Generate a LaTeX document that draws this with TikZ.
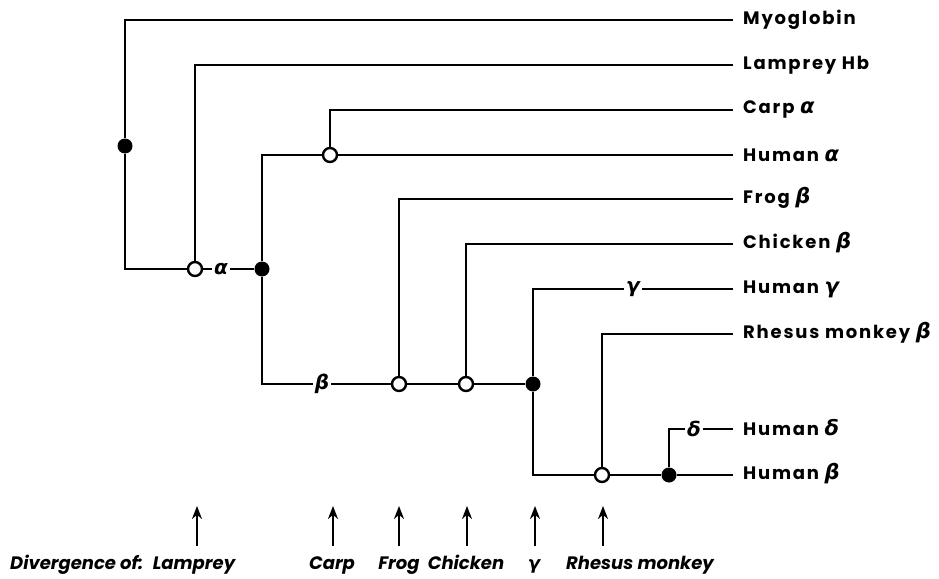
\documentclass[tikz,border=0pt]{standalone}
\usepackage{fontspec}
\setmainfont{Poppins}
\newfontfamily\leaffam{Poppins}[LetterSpace=10]
\newfontfamily\grk{DejaVu Sans}
\newcommand{\gr}[1]{{\grk\bfseries\itshape #1}}
\newcommand{\grbig}[1]{{\grk\bfseries\itshape\fontsize{21}{22}\selectfont #1}}
\usetikzlibrary{arrows.meta}
\tikzset{
  branch/.style={line width=2.8pt},
  opendot/.style={circle, draw, fill=white, line width=2.4pt, minimum size=14pt, inner sep=0pt},
  fulldot/.style={circle, fill=black, minimum size=15pt, inner sep=0pt},
  leaf/.style={anchor=west, inner sep=0pt, font=\leaffam\bfseries\fontsize{18}{22}\selectfont},
  chain/.style={fill=white, inner sep=2pt, font=\fontsize{20}{22}\selectfont},
  era/.style={inner sep=0pt, font=\bfseries\itshape\fontsize{18}{21}\selectfont},
  rise/.style={line width=2.8pt, -{Stealth[length=13pt,width=10pt]}},
}
\begin{document}
\begin{tikzpicture}[x=1pt, y=-1pt]
\useasboundingbox (0,0) rectangle (939,578);

% leaf ends
\foreach \n/\y in {myo/20, lam/65, carp/110, ha/155, frog/199, chick/244, hg/289, rh/334, hd/429, hb/475}
  \coordinate (\n) at (733,\y);

% leaf labels
\node[leaf] (tmyo) at (743,20) {Myoglobin};
\node[leaf] (tlam) at (743,65) {Lamprey Hb};
\node[leaf] (tcarp) at (743,110) {Carp \grbig{α}};
\node[leaf] (tha) at (743,155) {Human \grbig{α}};
\node[leaf] (tfrog) at (743,198) {Frog \grbig{β}};
\node[leaf] (tchick) at (743,243) {Chicken \grbig{β}};
\node[leaf] (thg) at (743,289) {Human \grbig{γ}};
\node[leaf] (trh) at (743,333) {Rhesus monkey \grbig{β}};
\node[leaf] (thd) at (743,428) {Human \grbig{δ}};
\node[leaf] (thb) at (743,474) {Human \grbig{β}};

% internal nodes
\node[fulldot] (mg) at (125,146) {};
\node[opendot] (lo) at (195,269) {};
\node[fulldot] (af) at (262,269) {};
\node[opendot] (co) at (330,155) {};
\node[opendot] (fo) at (399,384) {};
\node[opendot] (cho) at (466,384) {};
\node[fulldot] (gf) at (533,384) {};
\node[opendot] (ro) at (602,475) {};
\node[fulldot] (df) at (669,475) {};

% chain labels
\node[chain] (la) at (221,269) {\gr{α}};
\node[chain] (lb) at (322,384) {\gr{β}};
\node[chain] (lg) at (633,289) {\gr{γ}};
\node[chain] (ld) at (694,429) {\gr{δ}};

% branches
\draw[branch] (myo) -| (mg) |- (lo);
\draw[branch] (lam) -| (lo);
\draw[branch] (lo) -- (la) -- (af);
\draw[branch] (ha) -- (co) -| (af);
\draw[branch] (carp) -| (co);
\draw[branch] (af) |- (lb) -- (fo) -- (cho) -- (gf);
\draw[branch] (frog) -| (fo);
\draw[branch] (chick) -| (cho);
\draw[branch] (gf) |- (lg) -- (hg);
\draw[branch] (gf) |- (ro) -- (df) -- (hb);
\draw[branch] (rh) -| (ro);
\draw[branch] (df) |- (ld) -- (hd);

% divergence markers
\node[era, anchor=base west] (tdiv) at (10,569) {Divergence of:};
\node[era, anchor=base] (tlamp) at (194,569) {Lamprey};
\node[era, anchor=base] (tcp) at (332,569) {Carp};
\node[era, anchor=base] (tfr) at (399,569) {Frog};
\node[era, anchor=base] (tch) at (466,569) {Chicken};
\node[era, anchor=base] (tga) at (534,569) {\gr{γ}};
\node[era, anchor=base] (trm) at (640,569) {Rhesus monkey};
\foreach \n/\x in {lamp/197, cp/333, fr/399, ch/467, ga/535, rm/603} {
  \coordinate (b\n) at (\x,546);
  \coordinate (u\n) at (\x,506);
  \draw[rise] (b\n) -- (u\n);
}
\end{tikzpicture}
\end{document}
